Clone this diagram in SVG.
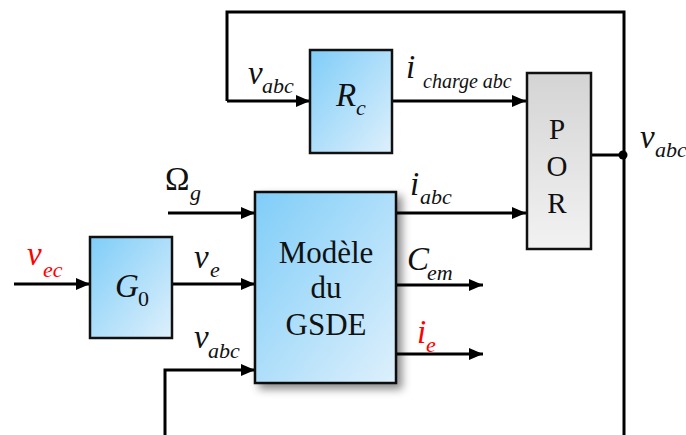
<svg xmlns="http://www.w3.org/2000/svg" width="686" height="435" viewBox="0 0 686 435">
<defs>
<linearGradient id="blue" x1="0" y1="0" x2="1" y2="1">
<stop offset="0" stop-color="#7fcdf8"/>
<stop offset="1" stop-color="#def0fc"/>
</linearGradient>
<linearGradient id="gray" x1="0" y1="0" x2="0" y2="1">
<stop offset="0" stop-color="#d4d4d4"/>
<stop offset="1" stop-color="#f2f2f2"/>
</linearGradient>
<filter id="shadow" x="-20%" y="-20%" width="150%" height="150%">
<feDropShadow dx="5" dy="5" stdDeviation="4" flood-color="#000" flood-opacity="0.45"/>
</filter>
<marker id="arr" viewBox="0 0 14 12" refX="14" refY="6" markerWidth="14" markerHeight="12" markerUnits="userSpaceOnUse" orient="auto">
<path d="M0,0 L14,6 L0,12 Z" fill="#000"/>
</marker>
</defs>
<style>
.blk{stroke:#111;stroke-width:2.5}
.ln{fill:none;stroke:#000;stroke-width:3}
.t{font-family:"Liberation Serif","Times New Roman",serif;fill:#111}
.v{font-family:"Liberation Serif","Times New Roman",serif;font-style:italic;font-size:33px;fill:#111}
.s{font-family:"Liberation Serif","Times New Roman",serif;font-style:italic;font-size:22px;fill:#111}
.red{fill:#ff0000}
</style>
<rect width="686" height="435" fill="#fff"/>
<g id="connectors">
<polyline class="ln" points="227,101 227,12 624,12 624,435"/>
<line class="ln" x1="227" y1="101" x2="310" y2="101" marker-end="url(#arr)"/>
<line class="ln" x1="392" y1="101" x2="526" y2="101" marker-end="url(#arr)"/>
<line class="ln" x1="591" y1="155" x2="624" y2="155"/>
<circle cx="623" cy="155" r="4.5" fill="#000"/>
<line class="ln" x1="168" y1="213" x2="255" y2="213" marker-end="url(#arr)"/>
<line class="ln" x1="14" y1="284" x2="90" y2="284" marker-end="url(#arr)"/>
<line class="ln" x1="172" y1="284" x2="255" y2="284" marker-end="url(#arr)"/>
<polyline class="ln" points="165,435 165,370 255,370" marker-end="url(#arr)"/>
<line class="ln" x1="396" y1="213" x2="526" y2="213" marker-end="url(#arr)"/>
<line class="ln" x1="396" y1="285" x2="483" y2="285" marker-end="url(#arr)"/>
<line class="ln" x1="396" y1="354" x2="483" y2="354" marker-end="url(#arr)"/>
</g>
<g id="Rc">
<rect class="blk" x="310" y="50" width="82" height="103" fill="url(#blue)"/>
<text class="v" x="336" y="106">R</text><text class="s" x="356" y="115">c</text>
</g>
<g id="POR">
<rect class="blk" x="527" y="73" width="64" height="176" fill="url(#gray)"/>
<text class="t" font-size="29" text-anchor="middle" x="557" y="139">P</text>
<text class="t" font-size="29" text-anchor="middle" x="557" y="176">O</text>
<text class="t" font-size="29" text-anchor="middle" x="557" y="213">R</text>
</g>
<g id="G0">
<rect class="blk" x="90" y="237" width="82" height="101" fill="url(#blue)"/>
<text class="v" x="115" y="297">G</text><text class="t" font-size="22" x="138" y="306">0</text>
</g>
<g id="GSDE">
<rect class="blk" x="255" y="192" width="141" height="191" fill="url(#blue)" filter="url(#shadow)"/>
<text class="t" font-size="31" text-anchor="middle" x="326" y="263">Modèle</text>
<text class="t" font-size="31" text-anchor="middle" x="326" y="298">du</text>
<text class="t" font-size="31" text-anchor="middle" x="326" y="335">GSDE</text>
</g>
<g id="labels">
<text class="v" x="248" y="84">v</text><text class="s" x="262" y="93">abc</text>
<text class="v" x="406" y="78">i</text><text class="s" font-size="20" x="423" y="88" style="font-size:20px">charge abc</text>
<text class="v" x="640" y="148">v</text><text class="s" x="655" y="157">abc</text>
<text class="t" font-size="33" x="165" y="190">Ω</text><text class="s" x="190" y="200">g</text>
<text class="v" x="410" y="195">i</text><text class="s" x="420" y="204">abc</text>
<text class="v" x="407" y="270">C</text><text class="s" x="427" y="280">em</text>
<text class="v red" x="417" y="343">i</text><text class="s red" x="426" y="352">e</text>
<text class="v red" x="27" y="265">v</text><text class="s red" x="43" y="277">ec</text>
<text class="v" x="194" y="268">v</text><text class="s" x="210" y="277">e</text>
<text class="v" x="194" y="348">v</text><text class="s" x="208" y="358">abc</text>
</g>
</svg>
